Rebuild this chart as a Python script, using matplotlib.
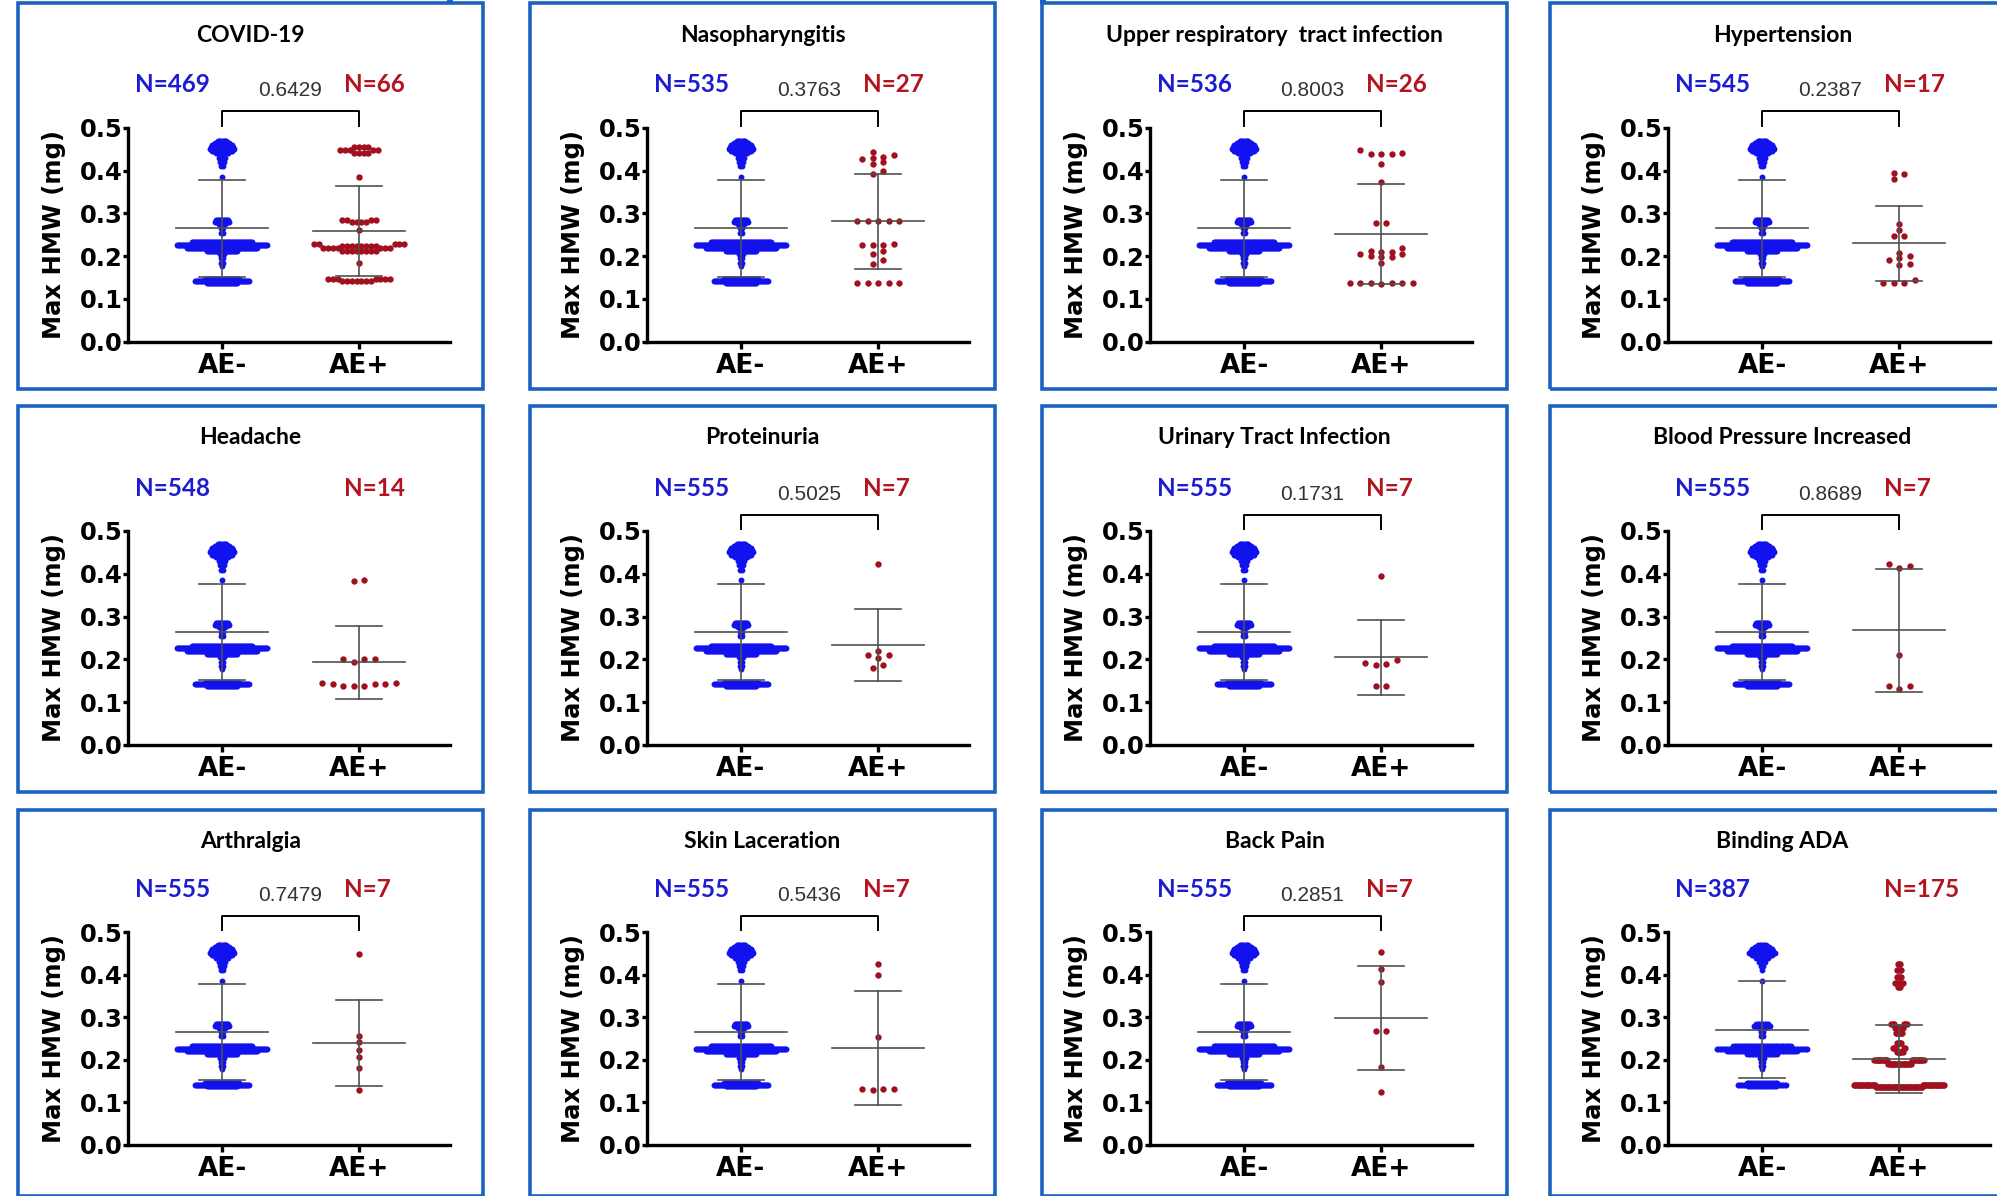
import numpy as np
import matplotlib
matplotlib.use('Agg')
import matplotlib.pyplot as plt
from matplotlib.patches import Rectangle

# ---- data -------------------------------------------------------------
titles = ['COVID-19', 'Nasopharyngitis', 'Upper respiratory  tract infection', 'Hypertension',
          'Headache', 'Proteinuria', 'Urinary Tract Infection', 'Blood Pressure Increased',
          'Arthralgia', 'Skin Laceration', 'Back Pain', 'Binding ADA']
n_neg = [469, 535, 536, 545, 548, 555, 555, 555, 555, 555, 555, 387]
n_pos = [66, 27, 26, 17, 14, 7, 7, 7, 7, 7, 7, 175]
p_values = ['0.6429', '0.3763', '0.8003', '0.2387', None, '0.5025',
            '0.1731', '0.8689', '0.7479', '0.5436', '0.2851', None]
groups = ['AE-', 'AE+']

# AE- cohort: Max HMW levels (mg) and subjects per level
neg_levels = [0.47, 0.465, 0.46, 0.455, 0.45, 0.445, 0.44, 0.43, 0.42, 0.41, 0.385,
              0.285, 0.28, 0.275, 0.265, 0.255, 0.232, 0.226, 0.22, 0.213, 0.205,
              0.195, 0.185, 0.178, 0.146, 0.142, 0.138]
neg_counts = [8, 15, 20, 22, 25, 20, 12, 6, 4, 2, 1,
              12, 15, 6, 3, 2, 60, 90, 70, 30, 5,
              3, 2, 1, 35, 55, 31]
ada_neg_counts = [6, 11, 15, 16, 19, 15, 9, 5, 3, 1, 1,
                  9, 12, 5, 2, 2, 40, 62, 48, 21, 4,
                  2, 2, 1, 22, 34, 20]

# AE+ groups
covid_levels = [0.455, 0.448, 0.442, 0.385, 0.285, 0.28, 0.262, 0.228, 0.224, 0.218, 0.212, 0.183, 0.146, 0.142]
covid_counts = [4, 5, 4, 1, 4, 4, 1, 5, 8, 7, 8, 1, 7, 7]
naso = [0.443, 0.436, 0.432, 0.43, 0.426, 0.419, 0.415, 0.399, 0.391,
        0.283, 0.283, 0.283, 0.283, 0.283, 0.229, 0.227, 0.225, 0.225, 0.213, 0.205, 0.192, 0.182,
        0.138, 0.138, 0.138, 0.138, 0.138]
urti = [0.449, 0.442, 0.439, 0.439, 0.439, 0.416, 0.373, 0.278, 0.278,
        0.219, 0.212, 0.210, 0.210, 0.206, 0.205, 0.200, 0.198, 0.197, 0.185,
        0.138, 0.138, 0.138, 0.138, 0.138, 0.138, 0.134]
hyper = [0.392, 0.395, 0.381, 0.274, 0.261, 0.248, 0.248, 0.208, 0.200, 0.196, 0.190,
         0.182, 0.180, 0.143, 0.137, 0.136, 0.136]
headache = [0.386, 0.383, 0.201, 0.201, 0.201, 0.193, 0.146, 0.146, 0.143, 0.143, 0.143, 0.138, 0.138, 0.138]
protein = [0.422, 0.220, 0.211, 0.210, 0.204, 0.186, 0.180]
uti = [0.394, 0.198, 0.191, 0.189, 0.187, 0.137, 0.137]
bp_inc = [0.424, 0.419, 0.413, 0.210, 0.139, 0.138, 0.131]
arthr = [0.448, 0.257, 0.241, 0.222, 0.206, 0.180, 0.129]
skin = [0.425, 0.400, 0.254, 0.131, 0.131, 0.131, 0.128]
back = [0.453, 0.412, 0.383, 0.267, 0.267, 0.183, 0.124]
ada_pos_levels = [0.425, 0.41, 0.395, 0.38, 0.37, 0.285, 0.275, 0.262, 0.24, 0.228, 0.218, 0.2, 0.19, 0.14, 0.136]
ada_pos_counts = [3, 4, 4, 4, 3, 6, 8, 6, 5, 5, 6, 23, 20, 38, 40]

neg_all = np.repeat(neg_levels, neg_counts)
neg_ada = np.repeat(neg_levels, ada_neg_counts)
neg_data = [neg_all] * 11 + [neg_ada]
pos_data = [np.repeat(covid_levels, covid_counts), naso, urti, hyper, headache, protein,
            uti, bp_inc, arthr, skin, back, np.repeat(ada_pos_levels, ada_pos_counts)]

# ---- layout (pixels) --------------------------------------------------
W, H = 1997, 1196
col_x = [18, 530, 1042, 1550]
spine_off = [110, 117, 108, 118]
row_y = [3, 406, 810]
ax_top = [127.7, 531, 932]
ax_bot = [341.7, 745, 1145]
PANEL_W, PANEL_H = 465, 386
AX_W = 322
CAT_PX = 137.0
X_LO = -94 / CAT_PX
X_HI = (AX_W - 94) / CAT_PX

BLUE, RED = '#1212ee', '#a0101e'
BLUE_TXT, RED_TXT = '#1c1cd2', '#b3141f'
FRAME = '#1b63c0'
LINE = '#505050'


def swarm(vals, ypx, dy, dx=10.5, half_w=45.0):
    """Prism-like scatter: spread coincident points sideways, centre each run,
    squeeze the whole column if it gets wider than half_w pixels."""
    v = np.sort(np.asarray(vals, float)) * ypx
    x = np.zeros(len(v))
    for i in range(1, len(v)):
        near = np.where(v[i] - v[:i] < dy)[0]
        if len(near) == 0:
            continue
        xn = x[near]
        c = np.concatenate([[0.0], xn + dx, xn - dx])
        ok = np.all(np.abs(c[:, None] - xn[None, :]) >= dx - 1e-6, axis=1)
        c = c[ok]
        x[i] = c[np.lexsort((-c, np.abs(c)))][0]
    breaks = np.where(np.diff(v) >= dy)[0] + 1
    for seg in np.split(np.arange(len(v)), breaks):
        x[seg] -= (x[seg].max() + x[seg].min()) / 2
    m = np.abs(x).max()
    if m > half_w:
        x *= half_w / m
    return x / CAT_PX, v / ypx


def mean_sd(ax, pos, vals):
    m, s = np.mean(vals), np.std(vals, ddof=1)
    ax.plot([pos - 0.335, pos + 0.335], [m, m], color=LINE, lw=1.2, zorder=4)
    ax.plot([pos, pos], [m - s, m + s], color=LINE, lw=1.2, zorder=4)
    for yy in (m - s, m + s):
        ax.plot([pos - 0.165, pos + 0.165], [yy, yy], color=LINE, lw=1.2, zorder=4)


fig = plt.figure(figsize=(W / 100, H / 100), dpi=100)
fig.patch.set_facecolor('white')

for idx in range(12):
    r, c = divmod(idx, 4)
    # panel frame
    fig.add_artist(Rectangle((col_x[c] / W, 1 - (row_y[r] + PANEL_H) / H), PANEL_W / W, PANEL_H / H,
                             transform=fig.transFigure, fill=False, ec=FRAME, lw=2.6))
    left = col_x[c] + spine_off[c]
    ax = fig.add_axes([left / W, 1 - ax_bot[r] / H, AX_W / W, (ax_bot[r] - ax_top[r]) / H])
    ypx = (ax_bot[r] - ax_top[r]) / 0.5

    xs, ys = swarm(neg_data[idx], ypx, dy=1.5)
    ax.scatter(xs, ys, s=18, color=BLUE, lw=0, zorder=2)
    xs, ys = swarm(pos_data[idx], ypx, dy=5.0)
    ax.scatter(1 + xs, ys, s=21, color=RED, lw=0, zorder=2)
    mean_sd(ax, 0, neg_data[idx])
    mean_sd(ax, 1, pos_data[idx])

    ax.set_xlim(X_LO, X_HI)
    ax.set_ylim(0, 0.5)
    ax.set_yticks(np.arange(0, 0.51, 0.1))
    ax.set_yticklabels([f'{t:.1f}' for t in np.arange(0, 0.51, 0.1)], fontsize=17.5, fontweight='bold')
    ax.set_xticks([0, 1])
    ax.set_xticklabels(groups, fontsize=19, fontweight='bold')
    for s in ('top', 'right'):
        ax.spines[s].set_visible(False)
    for s in ('left', 'bottom'):
        ax.spines[s].set_linewidth(2.4)
    ax.tick_params(axis='y', length=3.6, width=2.4, pad=0.5)
    ax.tick_params(axis='x', length=5, width=2.4, pad=3)
    ax.text(-74 / AX_W, 0.5, 'Max HMW (mg)', transform=ax.transAxes, rotation=90,
            ha='center', va='center', fontsize=17.5, fontweight='bold')

    # group sizes and p-value bracket
    ax.text(-0.09, 0.60, f'N={n_neg[idx]}', ha='right', va='center', color=BLUE_TXT,
            fontsize=17.5, fontweight='bold', family='Lato', clip_on=False)
    ax.text(0.89, 0.60, f'N={n_pos[idx]}', ha='left', va='center', color=RED_TXT,
            fontsize=17.5, fontweight='bold', family='Lato', clip_on=False)
    if p_values[idx]:
        ax.plot([0, 0, 1, 1], [0.505, 0.538, 0.538, 0.505], color='black', lw=1.4, clip_on=False)
        ax.text(0.5, 0.586, p_values[idx], ha='center', va='center', color='#333333',
                fontsize=15, family='Liberation Sans', clip_on=False)

    fig.text((col_x[c] + PANEL_W / 2) / W, 1 - (row_y[r] + 32) / H, titles[idx],
             ha='center', va='center', fontsize=16.5, fontweight='bold', family='Lato')

# small frame remnants along the top edge
for x0 in (447, 1040):
    fig.add_artist(Rectangle((x0 / W, 1 - 4 / H), 6 / W, 4 / H, transform=fig.transFigure,
                             color=FRAME, lw=0))

fig.savefig('out.png', dpi=100, facecolor='white')
